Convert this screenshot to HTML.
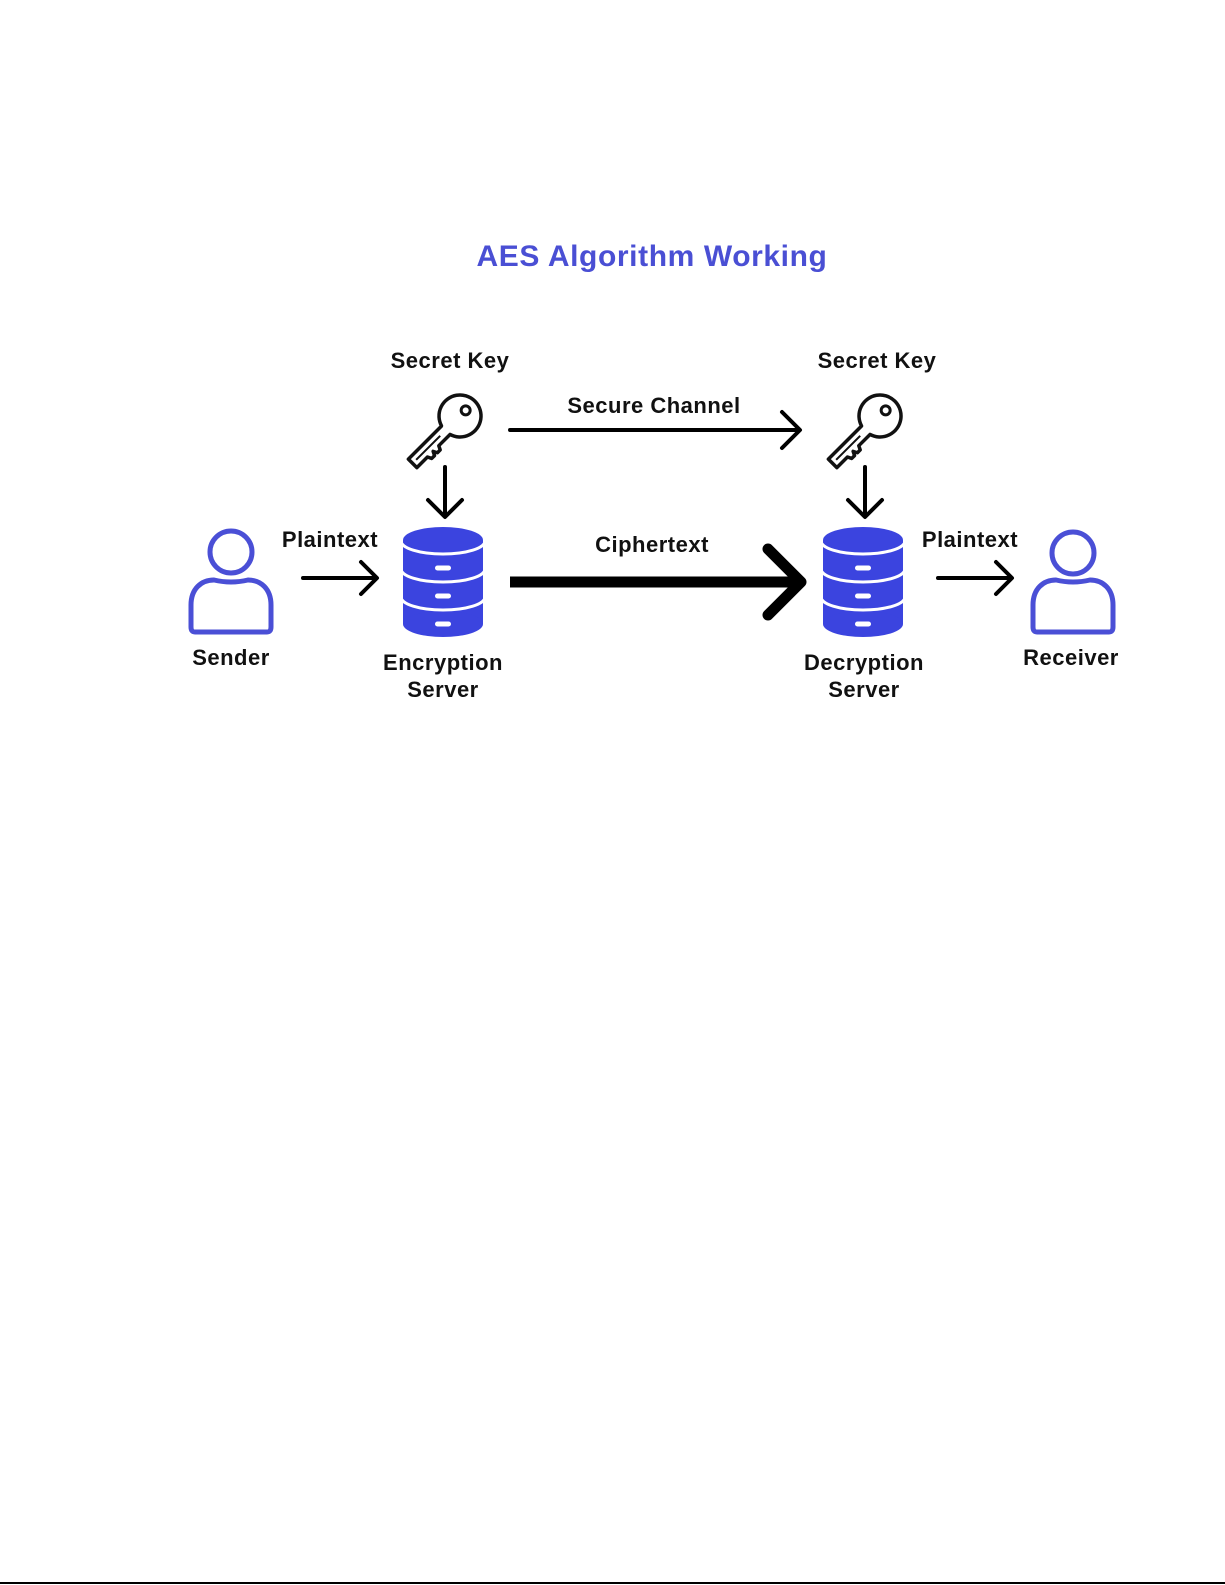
<!DOCTYPE html>
<html>
<head>
<meta charset="utf-8">
<style>
  html,body{margin:0;padding:0;background:#fff;}
  body{width:1225px;height:1585px;overflow:hidden;position:relative;}
  svg{position:absolute;left:0;top:0;}
  text{font-family:"Liberation Sans",sans-serif;font-weight:bold;}
</style>
</head>
<body>
<svg width="1225" height="1585" viewBox="0 0 1225 1585" xmlns="http://www.w3.org/2000/svg">
  <rect x="0" y="0" width="1225" height="1585" fill="#ffffff"/>

  <!-- Title -->
  <text x="652" y="266" font-size="30" fill="#4a4fd4" text-anchor="middle" letter-spacing="0.6">AES Algorithm Working</text>

  <!-- Labels -->
  <g font-size="22" fill="#111111" text-anchor="middle" letter-spacing="0.5">
    <text x="450" y="368">Secret Key</text>
    <text x="877" y="368">Secret Key</text>
    <text x="654" y="413">Secure Channel</text>
    <text x="330" y="547">Plaintext</text>
    <text x="970" y="547">Plaintext</text>
    <text x="652" y="552">Ciphertext</text>
    <text x="231" y="665">Sender</text>
    <text x="1071" y="665">Receiver</text>
    <text x="443" y="670">Encryption</text>
    <text x="443" y="697">Server</text>
    <text x="864" y="670">Decryption</text>
    <text x="864" y="697">Server</text>
  </g>

  <!-- Sender person -->
  <g fill="none" stroke="#4a4fd6" stroke-width="5" stroke-linejoin="round">
    <circle cx="231" cy="552" r="21"/>
    <path d="M195,632 H267 Q271,632 271,627 V605 C271,589 261,580 248,580 Q231,584 214,580 C201,580 191,589 191,605 V627 Q191,632 195,632 Z"/>
  </g>
  <!-- Receiver person -->
  <g fill="none" stroke="#4a4fd6" stroke-width="5" stroke-linejoin="round">
    <circle cx="1073" cy="553" r="21"/>
    <path d="M1037,632 H1109 Q1113,632 1113,627 V605 C1113,589 1103,580 1090,580 Q1073,584 1056,580 C1043,580 1033,589 1033,605 V627 Q1033,632 1037,632 Z"/>
  </g>

  <!-- Encryption DB -->
  <g>
    <g fill="#3b44df">
      <ellipse cx="443" cy="540" rx="40" ry="13"/>
      <rect x="403" y="540" width="80" height="84"/>
      <ellipse cx="443" cy="624" rx="40" ry="13"/>
    </g>
    <g fill="none" stroke="#ffffff" stroke-width="3">
      <path d="M401,541 A42 13 0 0 0 485,541"/>
      <path d="M401,569 A42 13 0 0 0 485,569"/>
      <path d="M401,597 A42 13 0 0 0 485,597"/>
    </g>
    <g fill="#ffffff">
      <rect x="435" y="565.5" width="16" height="5" rx="2.5"/>
      <rect x="435" y="593.5" width="16" height="5" rx="2.5"/>
      <rect x="435" y="621.5" width="16" height="5" rx="2.5"/>
    </g>
  </g>

  <!-- Decryption DB -->
  <g>
    <g fill="#3b44df">
      <ellipse cx="863" cy="540" rx="40" ry="13"/>
      <rect x="823" y="540" width="80" height="84"/>
      <ellipse cx="863" cy="624" rx="40" ry="13"/>
    </g>
    <g fill="none" stroke="#ffffff" stroke-width="3">
      <path d="M821,541 A42 13 0 0 0 905,541"/>
      <path d="M821,569 A42 13 0 0 0 905,569"/>
      <path d="M821,597 A42 13 0 0 0 905,597"/>
    </g>
    <g fill="#ffffff">
      <rect x="855" y="565.5" width="16" height="5" rx="2.5"/>
      <rect x="855" y="593.5" width="16" height="5" rx="2.5"/>
      <rect x="855" y="621.5" width="16" height="5" rx="2.5"/>
    </g>
  </g>

  <!-- Keys -->
  <g transform="translate(460,416) rotate(-45)" fill="none" stroke="#111111" stroke-width="3.5" stroke-linejoin="round">
    <path d="M-20.1,-6 A21 21 0 1 1 -20.1,6 L-36,6 L-38,10 L-42,10 L-44,6 L-46,10 L-50,10 L-52,6 L-67,6 L-67,-6 Z"/>
    <path d="M-28,0 L-62,0" stroke-width="2"/>
    <circle cx="8" cy="0" r="4.5" stroke-width="3"/>
  </g>
  <g transform="translate(880,416) rotate(-45)" fill="none" stroke="#111111" stroke-width="3.5" stroke-linejoin="round">
    <path d="M-20.1,-6 A21 21 0 1 1 -20.1,6 L-36,6 L-38,10 L-42,10 L-44,6 L-46,10 L-50,10 L-52,6 L-67,6 L-67,-6 Z"/>
    <path d="M-28,0 L-62,0" stroke-width="2"/>
    <circle cx="8" cy="0" r="4.5" stroke-width="3"/>
  </g>

  <!-- Arrows -->
  <g fill="none" stroke="#000000" stroke-width="4" stroke-linecap="round" stroke-linejoin="round">
    <path d="M445,467 V516"/>
    <path d="M428,500 L445,517 L462,500"/>
    <path d="M865,467 V516"/>
    <path d="M848,500 L865,517 L882,500"/>
    <path d="M303,578 H376"/>
    <path d="M361,562 L377,578 L361,594"/>
    <path d="M938,578 H1011"/>
    <path d="M996,562 L1012,578 L996,594"/>
    <path d="M510,430 H799"/>
    <path d="M782,412 L800,430 L782,448"/>
  </g>
  <!-- ciphertext thick arrow -->
  <g fill="none" stroke="#000000" stroke-width="11" stroke-linejoin="round">
    <path d="M510,582 H798" stroke-linecap="butt"/>
    <path d="M768,549 L801,582 L768,615" stroke-linecap="round"/>
  </g>

  <!-- bottom border line -->
  <rect x="0" y="1582" width="1225" height="2" fill="#000000"/>
</svg>
</body>
</html>
